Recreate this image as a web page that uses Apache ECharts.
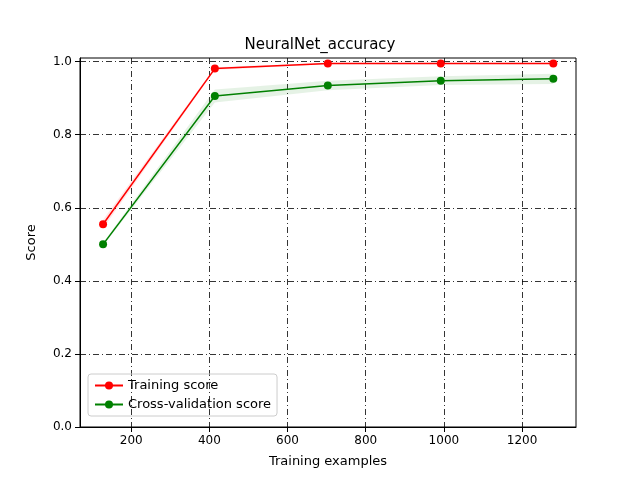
<!DOCTYPE html>
<html><head><meta charset="utf-8">
<script src="https://cdn.jsdelivr.net/npm/echarts@6/dist/echarts.min.js"></script>
<style>html,body{margin:0;background:#fff}#chart{width:640px;height:480px}</style>
</head><body><div id="chart"></div>
<script>
const trainSizes = [128, 414, 703, 992, 1280];
const trainMean = [0.555, 0.981, 0.995, 0.995, 0.995];
const trainStd = [0.012, 0.004, 0.002, 0.002, 0.002];
const cvMean = [0.500, 0.906, 0.935, 0.948, 0.953];
const cvStd = [0.004, 0.018, 0.013, 0.012, 0.014];

const pts = (ys) => trainSizes.map((x, i) => [x, ys[i]]);

// filled band between mean-std and mean+std, drawn through the axis scales
function band(m, s, color) {
  return {
    type: 'custom', silent: true, z: 1,
    data: [0],
    renderItem: (params, api) => {
      const up = trainSizes.map((x, i) => api.coord([x, m[i] + s[i]]));
      const lo = trainSizes.map((x, i) => api.coord([x, m[i] - s[i]])).reverse();
      return { type: 'polygon', shape: { points: up.concat(lo) }, style: { fill: color, opacity: 0.1 } };
    }
  };
}

const font = { fontFamily: 'DejaVu Sans', color: '#000' };
const split = { show: true, lineStyle: { color: '#000', type: [6, 3, 1, 3], width: 0.8 } };
const xTicks = [200, 400, 600, 800, 1000, 1200];
const yTicks = [0, 0.2, 0.4, 0.6, 0.8, 1.0];

const chart = echarts.init(document.getElementById('chart'));
chart.setOption({
  animation: false,
  title: { text: 'NeuralNet_accuracy', left: 'center', top: 33, textStyle: { ...font, fontSize: 15, fontWeight: 'normal' } },
  grid: { left: 80, right: 64, top: 58, bottom: 53 },
  legend: {
    left: 88, top: 374, orient: 'vertical', itemGap: 6, itemWidth: 28, itemHeight: 10,
    borderColor: '#ccc', borderWidth: 1, borderRadius: 3, padding: [5, 6],
    textStyle: { ...font, fontSize: 13 },
    data: ['Training score', 'Cross-validation score']
  },
  xAxis: {
    type: 'value', min: 69, max: 1338, interval: 200,
    name: 'Training examples', nameLocation: 'middle', nameGap: 28,
    nameTextStyle: { ...font, fontSize: 13 },
    axisLine: { onZero: false, lineStyle: { color: '#000' } },
    axisTick: { show: true, customValues: xTicks },
    axisLabel: { ...font, fontSize: 12, customValues: xTicks, formatter: (v) => String(v) },
    splitLine: { ...split }
  },
  yAxis: {
    type: 'value', min: 0, max: 1.01, interval: 0.2,
    name: 'Score', nameLocation: 'middle', nameGap: 42,
    nameTextStyle: { ...font, fontSize: 13 },
    axisLine: { show: true, lineStyle: { color: '#000' } },
    axisTick: { show: true, customValues: yTicks },
    axisLabel: { ...font, fontSize: 12, customValues: yTicks, formatter: (v) => v.toFixed(1) },
    splitLine: { ...split }
  },
  series: [
    band(trainMean, trainStd, 'red'),
    band(cvMean, cvStd, 'green'),
    { name: 'Training score', type: 'line', z: 3, data: pts(trainMean), color: 'red', symbol: 'circle', symbolSize: 8, lineStyle: { width: 1.5 } },
    { name: 'Cross-validation score', type: 'line', z: 3, data: pts(cvMean), color: 'green', symbol: 'circle', symbolSize: 8, lineStyle: { width: 1.5 } }
  ],
  graphic: [{ type: 'rect', shape: { x: 80, y: 58, width: 496, height: 369 }, style: { fill: 'none', stroke: '#000', lineWidth: 1 }, silent: true }]
});
</script></body></html>
